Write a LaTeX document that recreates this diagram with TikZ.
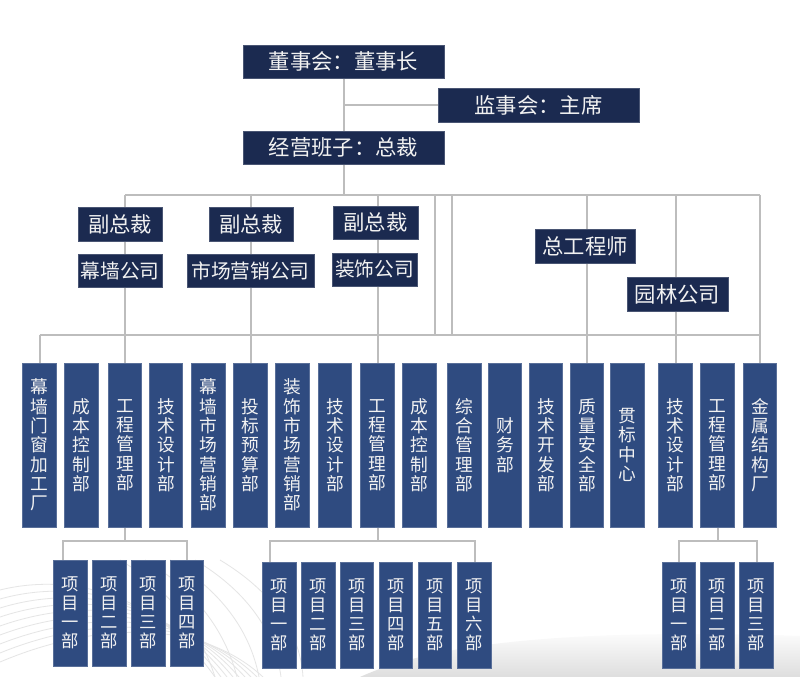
\documentclass[tikz,border=0pt]{standalone}
\usepackage{fontspec}
\newfontfamily\cjk{Noto Sans CJK SC}
\usetikzlibrary{backgrounds}
\pgfdeclarelayer{deco}
\pgfdeclarelayer{lines}
\pgfsetlayers{deco,lines,main}
\definecolor{navy}{HTML}{1B2A50}
\definecolor{colblue}{HTML}{2F4B80}
\definecolor{linegray}{HTML}{BDBDBD}
\definecolor{txt}{HTML}{F2F2F2}
\tikzset{
  sz/.style 2 args={minimum width={#1*0.75pt}, minimum height={#2*0.75pt}},
  topbox/.style={fill=navy, draw=navy!80!white, line width=0.4pt, inner sep=0pt, text=txt, font={\cjk\fontsize{16}{18}\selectfont}},
  midbox/.style={fill=navy, draw=navy!80!white, line width=0.4pt, inner sep=0pt, text=txt, font={\cjk\fontsize{14.8}{17}\selectfont}},
  colbox/.style={fill=colblue, draw=colblue!80!white, line width=0.4pt, inner sep=0pt, text=txt, align=center, sz={33.5}{164}, font={\cjk\fontsize{13.3}{14.5}\selectfont}},
  projbox/.style={fill=colblue, draw=colblue!80!white, line width=0.4pt, inner sep=0pt, text=txt, align=center, sz={33.5}{106}, font={\cjk\fontsize{13}{14.2}\selectfont}},
  conn/.style={draw=linegray, line width=1.5pt},
  decoline/.style={draw=black!10, line width=0.6pt}
}
\begin{document}
\begin{tikzpicture}[x=0.75pt,y=-0.75pt]
\useasboundingbox (0,0) rectangle (800,677);
% top level
\node[topbox, sz={201}{33}] (dsz) at (343.5,61.5) {董事会：董事长};
\node[topbox, sz={201}{34}] (jsh) at (538.5,105) {监事会：主席};
\node[topbox, sz={201}{33}] (jy) at (343.5,147.5) {经营班子：总裁};
% second level
\node[topbox, sz={84}{34}] (fz1) at (120,224) {副总裁};
\node[midbox, sz={84}{33}] (mq) at (120,270.5) {幕墙公司};
\node[topbox, sz={84}{34}] (fz2) at (251,224) {副总裁};
\node[midbox, sz={127}{33}] (sc) at (250.5,270.5) {市场营销公司};
\node[topbox, sz={85}{33}] (fz3) at (375.5,222.5) {副总裁};
\node[midbox, sz={85}{33}] (zs) at (374.5,269.5) {装饰公司};
\node[topbox, sz={100}{34}] (zgcs) at (585,246) {总工程师};
\node[topbox, sz={101}{34}] (yl) at (677.5,294) {园林公司};
% departments
\node[colbox] (c1) at (39.5,445) {幕\\墙\\门\\窗\\加\\工\\厂};
\node[colbox] (c2) at (81.5,445) {成\\本\\控\\制\\部};
\node[colbox] (c3) at (125,445) {工\\程\\管\\理\\部};
\node[colbox] (c4) at (166,445) {技\\术\\设\\计\\部};
\node[colbox] (c5) at (208.5,445) {幕\\墙\\市\\场\\营\\销\\部};
\node[colbox] (c6) at (250.5,445) {投\\标\\预\\算\\部};
\node[colbox] (c7) at (292.5,445) {装\\饰\\市\\场\\营\\销\\部};
\node[colbox] (c8) at (335,445) {技\\术\\设\\计\\部};
\node[colbox] (c9) at (377.5,445) {工\\程\\管\\理\\部};
\node[colbox] (c10) at (419.5,445) {成\\本\\控\\制\\部};
\node[colbox] (c11) at (464.5,445) {综\\合\\管\\理\\部};
\node[colbox] (c12) at (505,445) {财\\务\\部};
\node[colbox] (c13) at (546,445) {技\\术\\开\\发\\部};
\node[colbox] (c14) at (587,445) {质\\量\\安\\全\\部};
\node[colbox] (c15) at (627.5,445) {贯\\标\\中\\心};
\node[colbox] (c16) at (675.5,445) {技\\术\\设\\计\\部};
\node[colbox] (c17) at (717.5,445) {工\\程\\管\\理\\部};
\node[colbox] (c18) at (760,445) {金\\属\\结\\构\\厂};
% projects group A
\node[projbox] (a1) at (70.5,613) {项\\目\\一\\部};
\node[projbox] (a2) at (109.5,613) {项\\目\\二\\部};
\node[projbox] (a3) at (148.5,613) {项\\目\\三\\部};
\node[projbox] (a4) at (187,613) {项\\目\\四\\部};
% group B
\node[projbox] (b1) at (279.5,615) {项\\目\\一\\部};
\node[projbox] (b2) at (318.5,615) {项\\目\\二\\部};
\node[projbox] (b3) at (357,615) {项\\目\\三\\部};
\node[projbox] (b4) at (396,615) {项\\目\\四\\部};
\node[projbox] (b5) at (435,615) {项\\目\\五\\部};
\node[projbox] (b6) at (474.5,615) {项\\目\\六\\部};
% group C
\node[projbox] (d1) at (679,615) {项\\目\\一\\部};
\node[projbox] (d2) at (717.5,615) {项\\目\\二\\部};
\node[projbox] (d3) at (756.5,615) {项\\目\\三\\部};
% bus coordinates
\coordinate (busT) at (0,195);
\coordinate (busM) at (0,335);
\coordinate (busA) at (0,541);
\coordinate (v1) at (435,195);
\coordinate (v2) at (452,195);
\begin{pgfonlayer}{lines}
\draw[conn] (dsz.south) -- (jy.north);
\draw[conn] (dsz.south |- jsh.west) -- (jsh.west);
\draw[conn] (jy.south) -- (jy.south |- busT);
\draw[conn] (c3.north |- busT) -- (c18.north |- busT);
\draw[conn] (c3.north |- busT) -- (c3.north);
\draw[conn] (c6.north |- busT) -- (c6.north);
\draw[conn] (c9.north |- busT) -- (c9.north);
\draw[conn] (v1) -- (v1 |- busM);
\draw[conn] (v2) -- (v2 |- busM);
\draw[conn] (c14.north |- busT) -- (c14.north);
\draw[conn] (c16.north |- busT) -- (c16.north);
\draw[conn] (c18.north |- busT) -- (c18.north);
\draw[conn] (c1.north |- busM) -- (c18.north |- busM);
\draw[conn] (c1.north |- busM) -- (c1.north);
% projects A
\draw[conn] (c3.south) -- (c3.south |- busA);
\draw[conn] ([xshift=-5.6pt]a1.north) -- ([xshift=-5.6pt]a1.north |- busA) -- (a4.north |- busA) -- (a4.north);
% projects B
\draw[conn] (c9.south) -- (c9.south |- busA);
\draw[conn] ([xshift=-7pt]b1.north) -- ([xshift=-7pt]b1.north |- busA) -- (b6.north |- busA) -- (b6.north);
% projects C
\draw[conn] (c17.south) -- (c17.south |- busA);
\draw[conn] (d1.north) -- (d1.north |- busA) -- (d3.north |- busA) -- (d3.north);
\end{pgfonlayer}
\begin{pgfonlayer}{deco}
\fill[white] (0,0) rectangle (800,677);
\shade[top color=white, bottom color=black!13] (360,677) .. controls (430,645) and (560,628) .. (800,636) -- (800,677) -- cycle;
\foreach \k in {0,...,8} {
  \draw[decoline] (0,{590+9*\k}) .. controls ({60+4*\k},{575+6*\k}) and ({150+6*\k},{585+4*\k}) .. ({215+6*\k},677);
}
\foreach \k in {0,...,4} {
  \draw[decoline] ({120+25*\k},560) .. controls ({170+25*\k},590) and ({200+25*\k},630) .. ({215+22*\k},677);
}
\end{pgfonlayer}
\end{tikzpicture}
\end{document}
